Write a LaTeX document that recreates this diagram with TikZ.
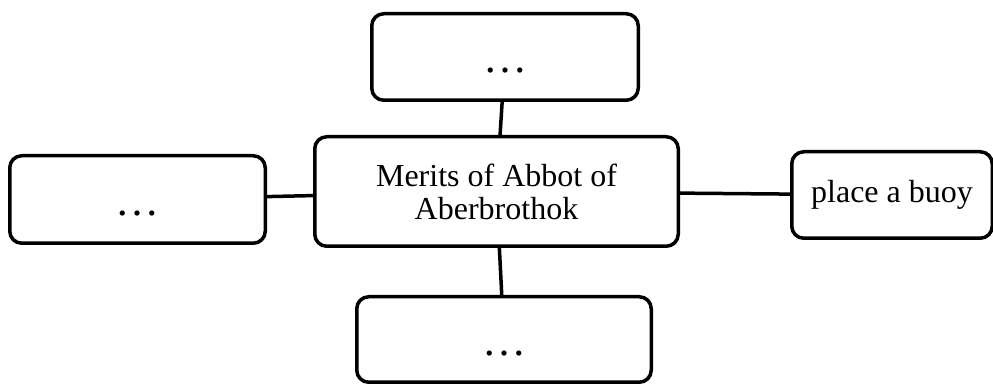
\documentclass[tikz,border=0pt]{standalone}
\usepackage{fontspec}
\setmainfont{Liberation Serif}
\usepackage{tikz}

\begin{document}
\begin{tikzpicture}[x=1pt,y=1pt,font=\fontsize{32}{33}\selectfont,
  box/.style={draw,line width=3.5pt,rounded corners=12pt,fill=white,align=center},
  dotsbox/.style={box,font=\fontsize{44}{44}\selectfont,text height=36pt,text depth=4pt}]
\useasboundingbox (0,0) rectangle (993,385);
\node[box,minimum width=363.5,minimum height=109.5] (merits) at (496.5,193.5){Merits of Abbot of\\Aberbrothok};
\node[dotsbox,minimum width=266.5,minimum height=86.5] (topbox) at (505,328){…};
\node[dotsbox,minimum width=255.5,minimum height=87.5] (leftbox) at (137.5,185.5){…};
\node[box,minimum width=200.5,minimum height=86.5] (buoy) at (892,190){place a buoy};
\node[dotsbox,minimum width=294.5,minimum height=85.5] (botbox) at (504,45.5){…};
\foreach \n in {topbox,leftbox,buoy,botbox}
  \draw[line width=3.5pt] (merits) -- (\n);
\end{tikzpicture}
\end{document}
